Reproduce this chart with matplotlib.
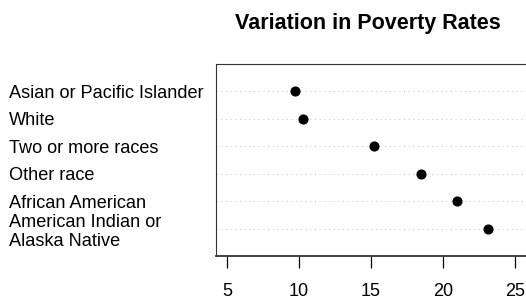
import matplotlib
matplotlib.use("Agg")
import matplotlib.pyplot as plt

plt.rcParams['font.family'] = ['Liberation Sans', 'DejaVu Sans']

# data, listed bottom to top as in the dot chart
groups = ["American Indian or\nAlaska Native", "African American", "Other race",
          "Two or more races", "White", "Asian or Pacific Islander"]
rates = [23.15, 21.0, 18.5, 15.2, 10.3, 9.7]
xticks = [5, 10, 15, 20, 25]

fig = plt.figure(figsize=(5.26, 3.01), dpi=100)
ax = fig.add_axes([215.5 / 526, 1 - 256 / 301, 311 / 526, 192 / 301])

ypos = list(range(1, len(groups) + 1))
for y in ypos:
    ax.axhline(y, color="#c8c8c8", lw=0.75, linestyle=(0, (1, 3.5)), zorder=1)
ax.plot(rates, ypos, "o", color="black", markersize=6.3, zorder=3)

ax.set_xlim(4.2, 25.8)
ax.set_ylim(0, len(groups) + 1)

ax.set_xticks(xticks)
ax.set_xticklabels([str(t) for t in xticks], fontsize=13)
ax.tick_params(axis="x", direction="out", length=8.6, width=0.9, pad=11)

ax.set_yticks(ypos)
ax.set_yticklabels(groups, fontsize=13.1, ha="left", linespacing=1.17)
ax.tick_params(axis="y", length=0, pad=(215.5 - 9) * 0.72)

for s in ax.spines.values():
    s.set_color("#333333")
    s.set_linewidth(0.8)
ax.spines["bottom"].set_linewidth(1.3)

fig.text(368 / 526, 1 - 24 / 301, "Variation in Poverty Rates", ha="center", va="center",
         fontsize=15.5, fontweight="bold")

fig.savefig("out.png", dpi=100)
